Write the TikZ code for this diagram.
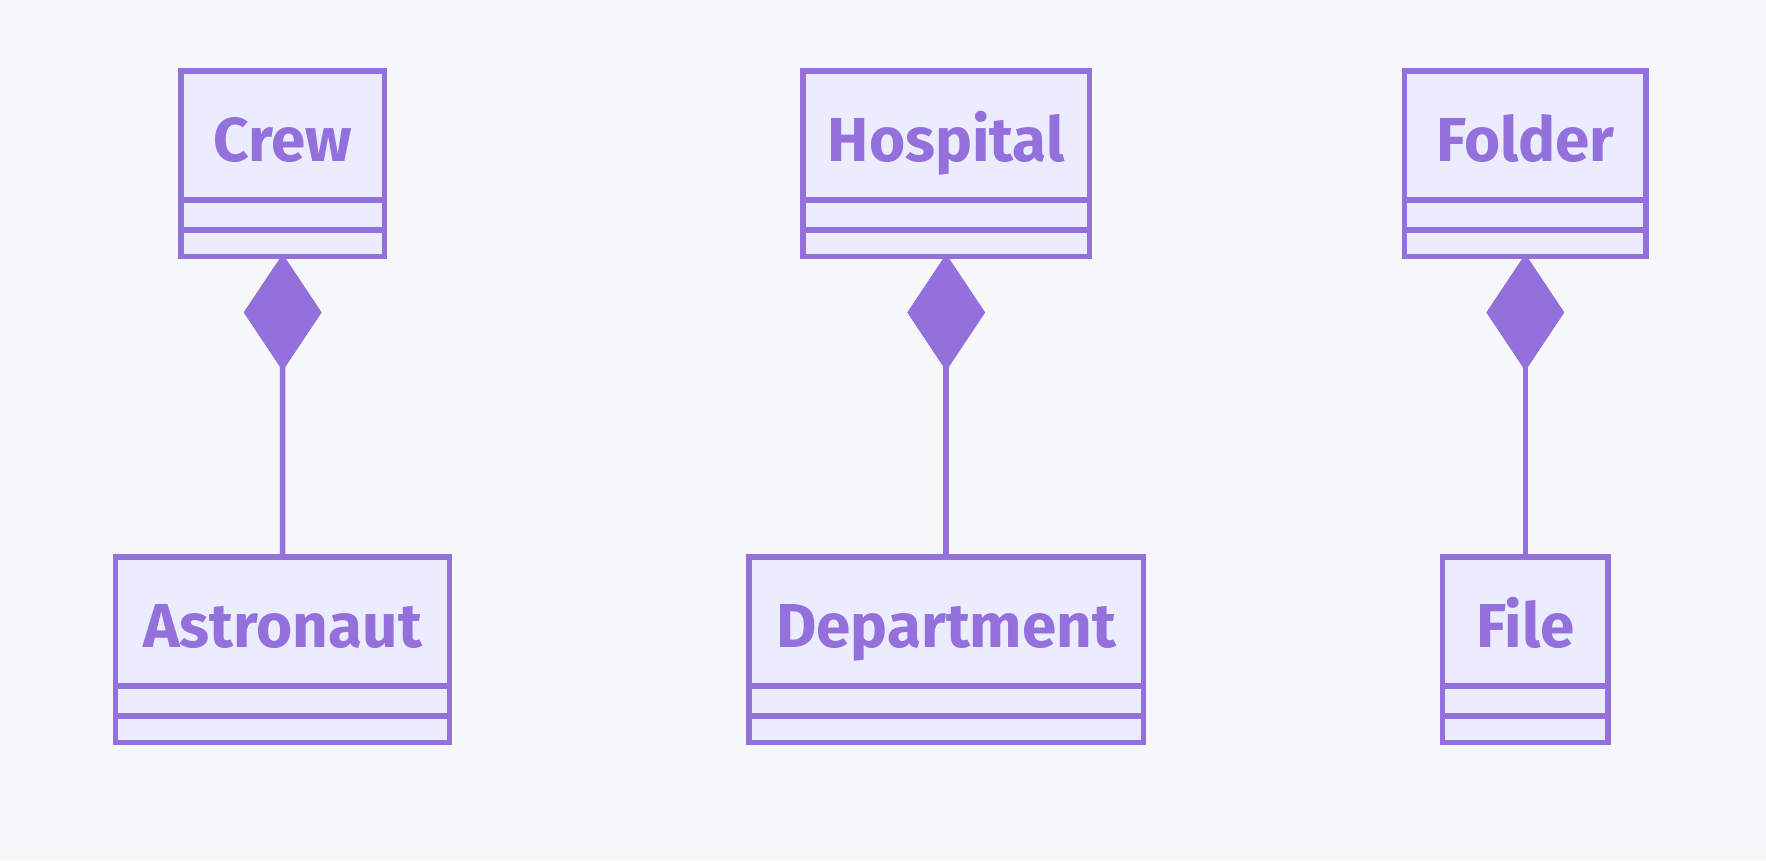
\documentclass[tikz,border=0pt]{standalone}
\usepackage{fontspec}
\setmainfont{Fira Sans}
\usepackage{tikz}
\usetikzlibrary{arrows.meta, positioning, backgrounds}
\definecolor{umlline}{HTML}{9370DB}
\definecolor{umlfill}{HTML}{ECECFF}
\definecolor{umlback}{HTML}{F6F7F9}
\tikzset{
	classhead/.style={draw=umlline, fill=umlfill, line width=5.5pt, outer sep=0pt, inner sep=0pt, text=umlline, font=\fontsize{62}{70}\selectfont\bfseries, text height=52pt, text depth=0pt, minimum height=129pt},
	classpart/.style={draw=umlline, fill=umlfill, line width=5.5pt, outer sep=0pt, inner sep=0pt},
	compose/.style={draw=umlline, line width=5.5pt, -{Diamond[length=117pt, width=78pt]}, shorten >=-2.75pt}
}
\makeatletter
% name, x, y, width, label
\newcommand{\umlclass}[5]{
	\node[classhead, minimum width=#4] (#1) at (#2, #3) {#5};
	\node[classpart, minimum width=#4, minimum height=30pt, below=0pt of #1] (#1-attr) {};
	\node[classpart, minimum width=#4, minimum height=26.7pt, below=0pt of #1-attr] (#1-ops) {};
}
\makeatother

\begin{document}
\begin{tikzpicture}[x=1pt, y=-1pt]
		\fill[umlback] (0, 0) rectangle (1766, 860);
		\useasboundingbox (0, 0) rectangle (1766, 860);
			%wholes:
			\umlclass{crew}{282.7}{135.5}{203.5pt}{Crew}
			\umlclass{hospital}{946.2}{135.5}{286.8pt}{Hospital}
			\umlclass{folder}{1525.3}{135.5}{241.8pt}{Folder}
			
			%parts:
			\umlclass{astronaut}{282.5}{621.4}{334pt}{Astronaut}
			\umlclass{department}{946.2}{621.4}{394.8pt}{Department}
			\umlclass{file}{1525.3}{621.4}{165.2pt}{File}
			
			%composition
			\draw[compose] (astronaut.north) -- (crew-ops.south);
			\draw[compose] (department.north) -- (hospital-ops.south);
			\draw[compose] (file.north) -- (folder-ops.south);
	\end{tikzpicture}
\end{document}
